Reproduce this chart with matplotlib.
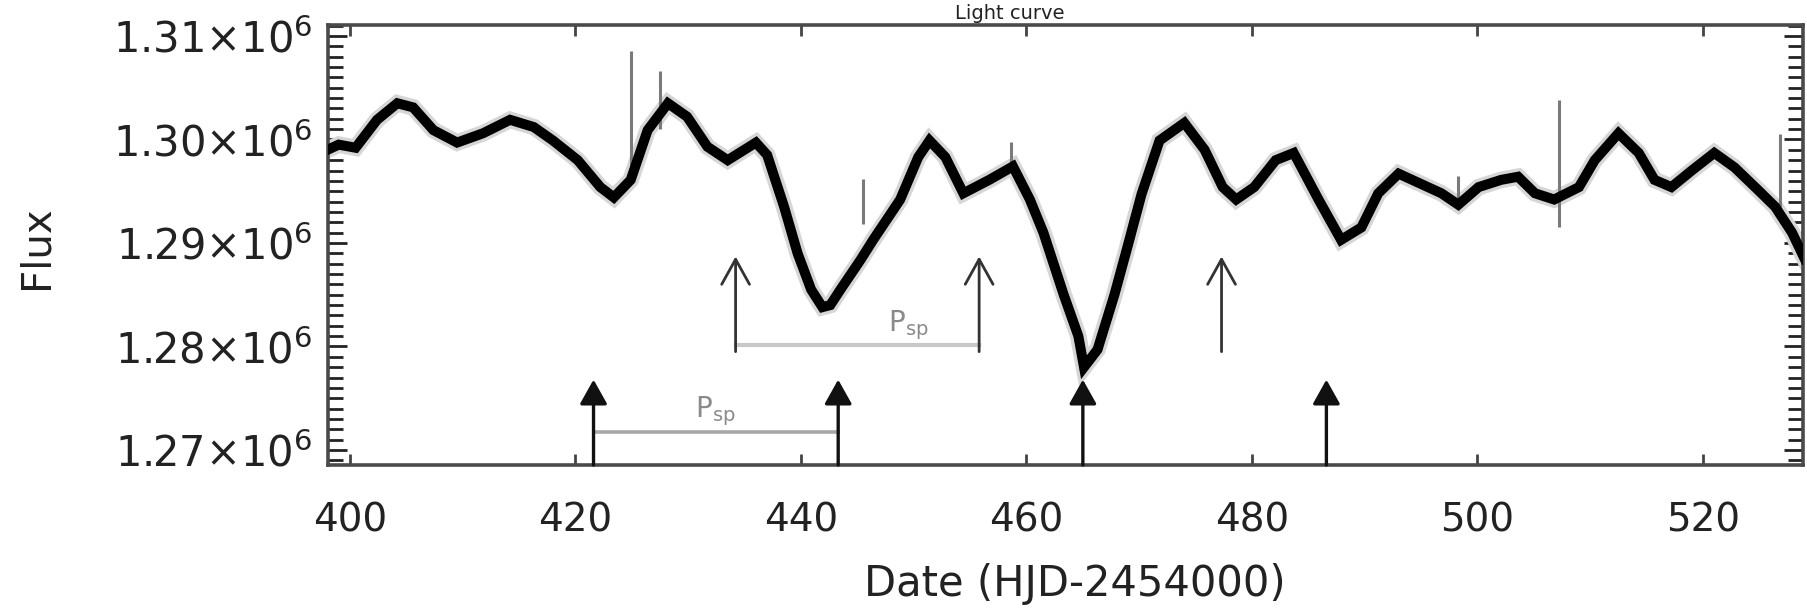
import matplotlib
matplotlib.use("Agg")
import matplotlib.pyplot as plt
from matplotlib.ticker import FixedLocator, MultipleLocator

# Light curve samples: date (HJD-2454000) and flux
days = [398.0, 399.0, 400.5, 402.4, 404.2, 405.6, 407.4, 409.5, 411.8, 414.2,
        416.3, 418.0, 420.2, 422.2, 423.4, 424.9, 426.4, 428.2, 429.9, 431.7,
        433.5, 436.0, 437.0, 438.5, 439.7, 440.9, 441.9, 442.6, 443.5, 445.3,
        446.4, 448.8, 450.4, 451.4, 452.8, 454.4, 456.7, 458.8, 460.3, 461.5,
        463.3, 464.6, 465.1, 466.3, 467.8, 469.0, 470.2, 471.8, 474.0, 475.8,
        477.4, 478.6, 480.2, 482.1, 483.7, 485.9, 487.9, 489.7, 491.2, 493.0,
        494.8, 496.8, 498.3, 500.1, 502.1, 503.6, 505.1, 506.8, 509.0, 510.4,
        512.5, 514.3, 515.7, 517.2, 519.0, 521.0, 522.8, 524.9, 526.4, 527.9,
        529.0]
flux = [1.2990e6, 1.2995e6, 1.2992e6, 1.3019e6, 1.3035e6, 1.3031e6, 1.3009e6, 1.2997e6, 1.3006e6, 1.3019e6,
        1.3012e6, 1.2999e6, 1.2980e6, 1.2954e6, 1.2944e6, 1.2961e6, 1.3009e6, 1.3035e6, 1.3022e6, 1.2993e6,
        1.2980e6, 1.2997e6, 1.2985e6, 1.2935e6, 1.2890e6, 1.2855e6, 1.2838e6, 1.2840e6, 1.2855e6, 1.2884e6,
        1.2903e6, 1.2942e6, 1.2983e6, 1.2999e6, 1.2983e6, 1.2948e6, 1.2961e6, 1.2974e6, 1.2942e6, 1.2910e6,
        1.2850e6, 1.2810e6, 1.2780e6, 1.2797e6, 1.2850e6, 1.2898e6, 1.2947e6, 1.2999e6, 1.3016e6, 1.2990e6,
        1.2954e6, 1.2942e6, 1.2954e6, 1.2980e6, 1.2987e6, 1.2942e6, 1.2903e6, 1.2915e6, 1.2948e6, 1.2967e6,
        1.2958e6, 1.2948e6, 1.2937e6, 1.2954e6, 1.2961e6, 1.2964e6, 1.2948e6, 1.2942e6, 1.2954e6, 1.2980e6,
        1.3006e6, 1.2987e6, 1.2961e6, 1.2954e6, 1.2970e6, 1.2987e6, 1.2973e6, 1.2951e6, 1.2935e6, 1.2910e6,
        1.2885e6]

# Isolated outlier spikes: date, lower flux, upper flux
spike_days = [424.9, 427.5, 445.5, 458.6, 498.3, 507.2, 526.8]
spike_low = [1.2965e6, 1.3010e6, 1.2918e6, 1.2975e6, 1.2937e6, 1.2915e6, 1.2935e6]
spike_high = [1.3085e6, 1.3066e6, 1.2962e6, 1.2998e6, 1.2965e6, 1.3038e6, 1.3005e6]

# Minima of the first active longitude (filled arrows)
filled_arrow_days = [421.6, 443.3, 465.0, 486.6]
filled_arrow_tip = 1.2768e6
# Minima of the second active longitude (open arrows)
open_arrow_days = [434.2, 455.8, 477.3]
open_arrow_tip = 1.2887e6
open_arrow_base = 1.2795e6

# Period brackets: start, end, level, label position
period_lower = (421.6, 443.3, 1.2717e6)
period_upper = (434.2, 455.8, 1.2801e6)
period_label = "P$_{\\rm sp}$"
period_lower_label_pos = (432.4, 1.2737e6)
period_upper_label_pos = (449.5, 1.2821e6)

x_ticks = [400, 420, 440, 460, 480, 500, 520]
x_tick_labels = ["400", "420", "440", "460", "480", "500", "520"]
y_ticks = [1.27e6, 1.28e6, 1.29e6, 1.30e6, 1.31e6]
y_tick_labels = ["1.27×10$^{6}$", "1.28×10$^{6}$", "1.29×10$^{6}$",
                 "1.30×10$^{6}$", "1.31×10$^{6}$"]

W, H = 1807, 609
fig = plt.figure(figsize=(W / 100, H / 100), dpi=100)
ax = fig.add_axes([328 / W, 1 - 465 / H, (1803 - 328) / W, (465 - 25) / H])
ax.set_xlim(398.05, 528.87)
ax.set_ylim(1.26855e6, 1.31106e6)

txt = "#222222"

# light curve: grey noise fringe under a thick black trace
ax.plot(days, flux, color="#d6d6d6", lw=12, solid_joinstyle="miter", zorder=2)
ax.plot(days, flux, color="black", lw=7.2, solid_joinstyle="miter", zorder=3)
ax.vlines(spike_days, spike_low, spike_high, color="#7a7a7a", lw=2.2, zorder=2.5)

ybot = ax.get_ylim()[0]
for d in filled_arrow_days:
    ax.annotate("", xy=(d, filled_arrow_tip), xytext=(d, ybot),
                arrowprops=dict(arrowstyle="-|>,head_length=0.75,head_width=0.42",
                                mutation_scale=20, color="#111111", lw=2.4,
                                shrinkA=0, shrinkB=0), zorder=4)
for d in open_arrow_days:
    ax.annotate("", xy=(d, open_arrow_tip), xytext=(d, open_arrow_base),
                arrowprops=dict(arrowstyle="->,head_length=0.9,head_width=0.5",
                                mutation_scale=20, color="#333333", lw=2.0,
                                shrinkA=0, shrinkB=0), zorder=4)

ax.plot(period_lower[:2], [period_lower[2]] * 2, color="#a8a8a8", lw=2.6, zorder=3.5)
ax.plot(period_upper[:2], [period_upper[2]] * 2, color="#c8c8c8", lw=3.0, zorder=3.5)
ax.text(*period_lower_label_pos, period_label, color="#8a8a8a", fontsize=20,
        ha="center", va="center")
ax.text(*period_upper_label_pos, period_label, color="#8a8a8a", fontsize=20,
        ha="center", va="center")

# axes frame and ticks
for s in ax.spines.values():
    s.set_color("#4a4a4a")
    s.set_linewidth(2.6)
ax.xaxis.set_major_locator(FixedLocator(x_ticks))
ax.set_xticklabels(x_tick_labels)
ax.yaxis.set_major_locator(FixedLocator(y_ticks))
ax.set_yticklabels(y_tick_labels)
ax.yaxis.set_minor_locator(MultipleLocator(1000))
ax.tick_params(axis="y", which="major", direction="in", length=14, width=2,
               left=True, right=True, pad=11, labelsize=30, labelcolor=txt,
               color="#222222")
ax.tick_params(axis="y", which="minor", direction="in", length=11, width=2,
               left=True, right=True, color="#222222")
ax.tick_params(axis="x", which="major", direction="in", length=8, width=2,
               top=True, bottom=True, pad=26, labelsize=28, labelcolor=txt,
               color="#444444")

fig.text(37 / W, 1 - 247 / H, "Flux", rotation=90, ha="center", va="center",
         fontsize=29, color=txt)
fig.text(1075 / W, 1 - 584 / H, "Date (HJD-2454000)", ha="center", va="center",
         fontsize=30, color=txt)
fig.text(1010 / W, 1 - 19 / H, "Light curve", ha="center", va="baseline",
         fontsize=14, color=txt)

fig.savefig("out.png", dpi=100)
